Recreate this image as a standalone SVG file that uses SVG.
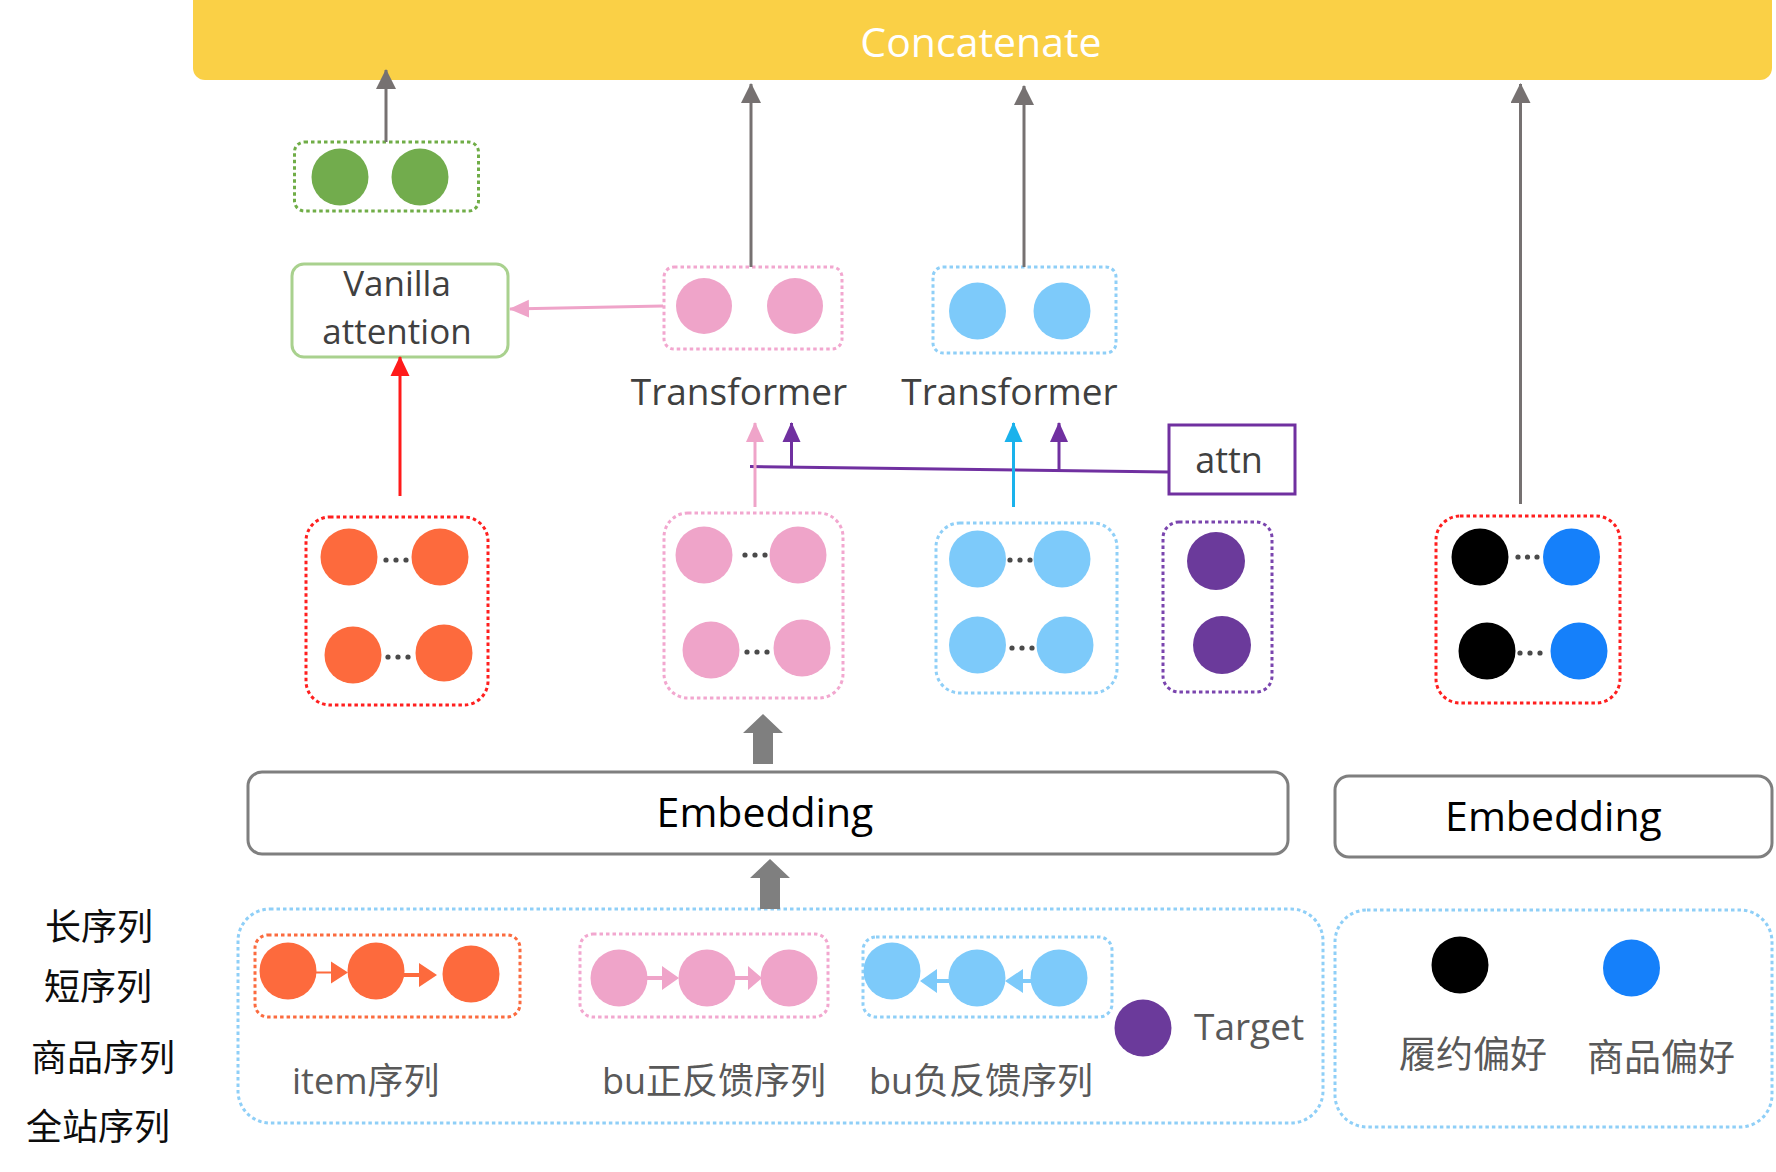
<svg xmlns="http://www.w3.org/2000/svg" width="1776" height="1172" viewBox="0 0 1776 1172">
<style>
text{font-family:"Open Sans","Noto Sans CJK SC",sans-serif}
.lbl{font-size:37px;fill:#404040}
.glbl{font-size:36px;fill:#595959}
.cjk{font-size:36px;fill:#0d0d0d;font-family:"Noto Sans CJK SC",sans-serif}
.emb{font-size:41px;fill:#000;text-anchor:middle}
.dot{stroke-width:3;stroke-dasharray:3.5 3;fill:none}
.red{stroke:#FF1F1F}
.pnk{stroke:#F2A7CF}
.blu{stroke:#8FCFF7}
.pur{stroke:#7A45AE}
.grn{stroke:#70AD47}
.org{stroke:#FB6B3F}
.cO{fill:#FD6A3D}
.cP{fill:#EFA4C9}
.cB{fill:#7DCAFA}
.cV{fill:#6B3A9B}
.cG{fill:#72AC4D}
.cK{fill:#000}
.cD{fill:#1580FA}
.ell{fill:#4a4a4a}
.ln{fill:none;stroke-width:3}
</style>
<defs>
<marker id="ahG" markerUnits="userSpaceOnUse" markerWidth="20" markerHeight="20" refX="19" refY="10" orient="auto"><path d="M0,0 L20,10 L0,20 z" fill="#767171"/></marker>
<marker id="ahR" markerUnits="userSpaceOnUse" markerWidth="20" markerHeight="20" refX="19" refY="10" orient="auto"><path d="M0,0.5 L20,10 L0,19.5 z" fill="#FF1A1A"/></marker>
<marker id="ahP" markerUnits="userSpaceOnUse" markerWidth="20" markerHeight="20" refX="19" refY="10" orient="auto"><path d="M0,1 L20,10 L0,19 z" fill="#EFA4C9"/></marker>
<marker id="ahV" markerUnits="userSpaceOnUse" markerWidth="20" markerHeight="20" refX="19" refY="10" orient="auto"><path d="M0,1 L20,10 L0,19 z" fill="#7030A0"/></marker>
<marker id="ahB" markerUnits="userSpaceOnUse" markerWidth="20" markerHeight="20" refX="19" refY="10" orient="auto"><path d="M0,1 L20,10 L0,19 z" fill="#1AB2EC"/></marker>
</defs>
<rect width="1776" height="1172" fill="#fff"/>

<g id="concatenate">
<rect x="193" y="-12" width="1579" height="92" rx="12" fill="#FAD046"/>
<text x="981" y="57" text-anchor="middle" style="font-size:41px;fill:#fff">Concatenate</text>
</g>

<g id="green-out">
<rect x="294.5" y="142" width="184" height="69" rx="10" class="dot grn"/>
<circle cx="340" cy="177" r="28.5" class="cG"/>
<circle cx="420" cy="177" r="28.5" class="cG"/>
</g>

<g id="vanilla-attention">
<rect x="292" y="264" width="216" height="93" rx="12" fill="#fff" stroke="#A9D18E" stroke-width="3"/>
<text x="397" y="296" text-anchor="middle" class="lbl" style="font-size:35px">Vanilla</text>
<text x="397" y="344" text-anchor="middle" class="lbl" style="font-size:35px">attention</text>
</g>

<g id="transformer-pink">
<rect x="664" y="267" width="178" height="82" rx="10" class="dot pnk"/>
<circle cx="704" cy="306" r="28" class="cP"/>
<circle cx="795" cy="306" r="28" class="cP"/>
<text x="739" y="405" text-anchor="middle" class="lbl">Transformer</text>
</g>

<g id="transformer-blue">
<rect x="933" y="267" width="183" height="86" rx="10" class="dot blu"/>
<circle cx="977.5" cy="311" r="28.5" class="cB"/>
<circle cx="1062" cy="311" r="28.5" class="cB"/>
<text x="1009.5" y="405" text-anchor="middle" class="lbl">Transformer</text>
</g>

<g id="attn">
<rect x="1169" y="425" width="126" height="69" fill="#fff" stroke="#7030A0" stroke-width="3"/>
<text x="1229" y="473" text-anchor="middle" class="lbl" style="font-size:36px">attn</text>
</g>

<g id="emb-orange">
<rect x="306" y="517" width="182" height="188" rx="24" class="dot red"/>
<circle cx="349" cy="557" r="28.5" class="cO"/>
<circle cx="440" cy="557" r="28.5" class="cO"/>
<circle cx="353" cy="655" r="28.5" class="cO"/>
<circle cx="444" cy="653" r="28.5" class="cO"/>
<circle cx="386" cy="560" r="2.6" class="ell"/><circle cx="396" cy="560" r="2.6" class="ell"/><circle cx="406" cy="560" r="2.6" class="ell"/>
<circle cx="388" cy="657" r="2.6" class="ell"/><circle cx="398" cy="657" r="2.6" class="ell"/><circle cx="408" cy="657" r="2.6" class="ell"/>
</g>

<g id="emb-pink">
<rect x="664" y="513" width="179" height="185" rx="24" class="dot pnk"/>
<circle cx="704" cy="555" r="28.5" class="cP"/>
<circle cx="798" cy="555" r="28.5" class="cP"/>
<circle cx="711" cy="650" r="28.5" class="cP"/>
<circle cx="802" cy="648" r="28.5" class="cP"/>
<circle cx="745" cy="555" r="2.6" class="ell"/><circle cx="755" cy="555" r="2.6" class="ell"/><circle cx="765" cy="555" r="2.6" class="ell"/>
<circle cx="747" cy="652" r="2.6" class="ell"/><circle cx="757" cy="652" r="2.6" class="ell"/><circle cx="767" cy="652" r="2.6" class="ell"/>
</g>

<g id="emb-blue">
<rect x="936" y="523" width="181" height="170" rx="24" class="dot blu"/>
<circle cx="977.5" cy="559" r="28.5" class="cB"/>
<circle cx="1062" cy="559" r="28.5" class="cB"/>
<circle cx="977.5" cy="645" r="28.5" class="cB"/>
<circle cx="1065" cy="645" r="28.5" class="cB"/>
<circle cx="1010" cy="560" r="2.6" class="ell"/><circle cx="1020" cy="560" r="2.6" class="ell"/><circle cx="1030" cy="560" r="2.6" class="ell"/>
<circle cx="1012" cy="648" r="2.6" class="ell"/><circle cx="1022" cy="648" r="2.6" class="ell"/><circle cx="1032" cy="648" r="2.6" class="ell"/>
</g>

<g id="emb-target">
<rect x="1163" y="522" width="109" height="170" rx="16" class="dot pur"/>
<circle cx="1216" cy="561" r="29" class="cV"/>
<circle cx="1222" cy="645" r="29" class="cV"/>
</g>

<g id="emb-pref">
<rect x="1436" y="516" width="184" height="187" rx="24" class="dot red"/>
<circle cx="1480" cy="557" r="28.5" class="cK"/>
<circle cx="1571.5" cy="557" r="28.5" class="cD"/>
<circle cx="1487" cy="651" r="28.5" class="cK"/>
<circle cx="1579" cy="651" r="28.5" class="cD"/>
<circle cx="1518" cy="557" r="2.6" class="ell"/><circle cx="1527.5" cy="557" r="2.6" class="ell"/><circle cx="1537" cy="557" r="2.6" class="ell"/>
<circle cx="1520" cy="653" r="2.6" class="ell"/><circle cx="1530" cy="653" r="2.6" class="ell"/><circle cx="1540" cy="653" r="2.6" class="ell"/>
</g>

<g id="embedding-left">
<rect x="248" y="772" width="1040" height="82" rx="14" fill="#fff" stroke="#7F7F7F" stroke-width="3"/>
<text x="765" y="827" class="emb">Embedding</text>
</g>

<g id="embedding-right">
<rect x="1335" y="776" width="437" height="81" rx="14" fill="#fff" stroke="#7F7F7F" stroke-width="3"/>
<text x="1553.5" y="831" class="emb">Embedding</text>
</g>

<g id="sequences">
<rect x="238" y="909" width="1085" height="214" rx="32" class="dot blu"/>
<rect x="255" y="935" width="265" height="82" rx="13" class="dot org"/>
<circle cx="288" cy="971" r="28.5" class="cO"/>
<circle cx="376" cy="971" r="28.5" class="cO"/>
<circle cx="471" cy="974" r="28.5" class="cO"/>
<path d="M316,971.5 h15 v-10 l17,11 l-17,11 v-10 h-15 z" fill="#FD6A3D"/>
<path d="M404,973 h15 v-10 l18,12 l-18,12 v-10 h-15 z" fill="#FD6A3D"/>
<rect x="580" y="934" width="248" height="83" rx="13" class="dot pnk"/>
<circle cx="619" cy="978" r="28.5" class="cP"/>
<circle cx="707" cy="978" r="28.5" class="cP"/>
<circle cx="789" cy="978" r="28.5" class="cP"/>
<path d="M647,976 h15 v-10 l17,12 l-17,12 v-10 h-15 z" fill="#EFA4C9"/>
<path d="M735,976 h13 v-10 l14,12 l-14,12 v-10 h-13 z" fill="#EFA4C9"/>
<rect x="863" y="937" width="249" height="80" rx="13" class="dot blu"/>
<circle cx="892" cy="971" r="28.5" class="cB"/>
<circle cx="977" cy="978" r="28.5" class="cB"/>
<circle cx="1059" cy="978" r="28.5" class="cB"/>
<path d="M950,979 h-13 v-10 l-17,12 l17,12 v-10 h13 z" fill="#7DCAFA"/>
<path d="M1032,979 h-9 v-10 l-18,12 l18,12 v-10 h9 z" fill="#7DCAFA"/>
<circle cx="1143" cy="1028" r="28.5" class="cV"/>
<text x="1194" y="1040" class="glbl" style="font-size:37px">Target</text>
<text x="292" y="1094" class="glbl">item序列</text>
<text x="602" y="1094" class="glbl">bu正反馈序列</text>
<text x="869" y="1094" class="glbl">bu负反馈序列</text>
</g>

<g id="preferences">
<rect x="1335" y="910" width="437" height="217" rx="32" class="dot blu"/>
<circle cx="1460" cy="965" r="28.5" class="cK"/>
<circle cx="1631.5" cy="968" r="28.5" class="cD"/>
<text x="1399" y="1068" class="glbl" style="font-size:37px">履约偏好</text>
<text x="1587" y="1071" class="glbl" style="font-size:37px">商品偏好</text>
</g>

<g id="side-labels">
<text x="45" y="940" class="cjk">长序列</text>
<text x="44" y="1000" class="cjk">短序列</text>
<text x="31" y="1071" class="cjk">商品序列</text>
<text x="26" y="1140" class="cjk">全站序列</text>
</g>

<g id="connectors">
<line x1="386" y1="142" x2="386" y2="70" class="ln" stroke="#767171" marker-end="url(#ahG)"/>
<line x1="751" y1="267" x2="751" y2="84" class="ln" stroke="#767171" marker-end="url(#ahG)"/>
<line x1="1024" y1="267" x2="1024" y2="86" class="ln" stroke="#767171" marker-end="url(#ahG)"/>
<line x1="1520.5" y1="504" x2="1520.5" y2="84" class="ln" stroke="#767171" marker-end="url(#ahG)"/>
<line x1="400" y1="496" x2="400" y2="357" class="ln" stroke="#FF1A1A" marker-end="url(#ahR)"/>
<line x1="663" y1="306" x2="510" y2="309" class="ln" stroke="#EFA4C9" marker-end="url(#ahP)"/>
<line x1="750" y1="466.5" x2="1169" y2="472" class="ln" stroke="#7030A0"/>
<line x1="755" y1="507" x2="755" y2="423" class="ln" stroke="#EFA4C9" marker-end="url(#ahP)"/>
<line x1="791.5" y1="467" x2="791.5" y2="423" class="ln" stroke="#7030A0" marker-end="url(#ahV)"/>
<line x1="1013.5" y1="507" x2="1013.5" y2="423" class="ln" stroke="#1AB2EC" marker-end="url(#ahB)"/>
<line x1="1059" y1="470" x2="1059" y2="423" class="ln" stroke="#7030A0" marker-end="url(#ahV)"/>
<path d="M763,714 L783,733 L773,733 L773,764 L753,764 L753,733 L743,733 z" fill="#7F7F7F"/>
<path d="M770,859 L790,878 L780,878 L780,909 L760,909 L760,878 L750,878 z" fill="#7F7F7F"/>
</g>
</svg>
